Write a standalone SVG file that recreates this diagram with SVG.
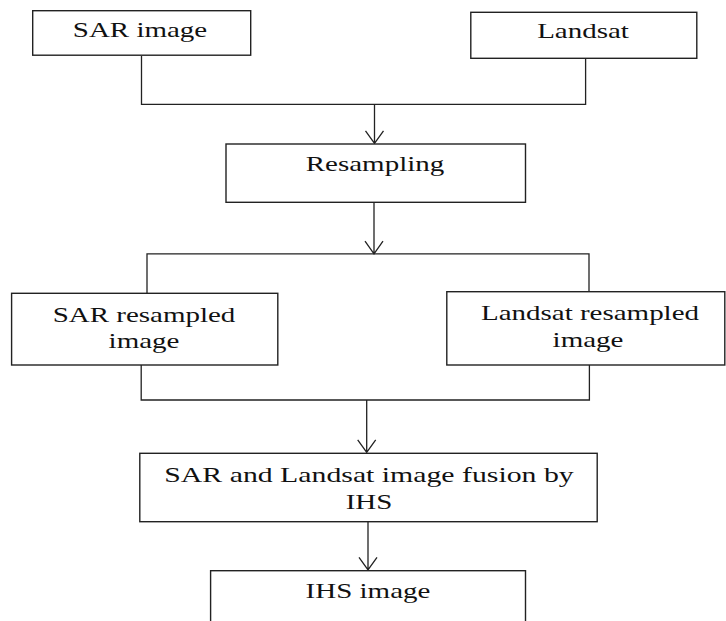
<svg xmlns="http://www.w3.org/2000/svg" width="726" height="621" viewBox="0 0 726 621">
<defs>
<style>
.box{fill:#fff;stroke:#222;stroke-width:1.4}
.ln{fill:none;stroke:#222;stroke-width:1.3}
.t{font-family:"Liberation Serif","Times New Roman",serif;font-size:20px;fill:#111;text-anchor:middle}
</style>
</defs>
<rect width="726" height="621" fill="#fff"/>
<g id="connectors">
<path class="ln" d="M141.5 56 V104.3 H585.6 V58.3"/>
<path class="ln" d="M374.5 104.3 V143.5 M365.5 130.8 L374.5 143.5 L383.5 130.8"/>
<path class="ln" d="M374 202.3 V253.8 M365 241.1 L374 253.8 L383 241.1"/>
<path class="ln" d="M147 293.3 V253.8 H589 V291.7"/>
<path class="ln" d="M141.2 365 V400 H589.4 V365"/>
<path class="ln" d="M366.7 400 V452.5 M357.7 439.8 L366.7 452.5 L375.7 439.8"/>
<path class="ln" d="M368 521.7 V570 M359 557.3 L368 570 L377 557.3"/>
</g>
<g id="sar-image">
<rect class="box" x="32.7" y="10.7" width="218" height="44.5"/>
<text class="t" transform="translate(140 37) scale(1.45 1)">SAR image</text>
</g>
<g id="landsat">
<rect class="box" x="470.8" y="12.3" width="226" height="46"/>
<text class="t" transform="translate(583 38) scale(1.45 1)">Landsat</text>
</g>
<g id="resampling">
<rect class="box" x="226" y="144" width="299.5" height="58.3"/>
<text class="t" transform="translate(375 171) scale(1.45 1)">Resampling</text>
</g>
<g id="sar-resampled">
<rect class="box" x="11.6" y="293.3" width="266.2" height="71.7"/>
<text class="t" transform="translate(144 321.7) scale(1.45 1)">SAR resampled</text>
<text class="t" transform="translate(144 348) scale(1.45 1)">image</text>
</g>
<g id="landsat-resampled">
<rect class="box" x="446.8" y="291.7" width="278" height="73.3"/>
<text class="t" transform="translate(590 320) scale(1.45 1)">Landsat resampled</text>
<text class="t" transform="translate(588 347) scale(1.45 1)">image</text>
</g>
<g id="fusion">
<rect class="box" x="139.8" y="453.3" width="457.4" height="68.4"/>
<text class="t" transform="translate(369 482) scale(1.49 1)">SAR and Landsat image fusion by</text>
<text class="t" transform="translate(369 509) scale(1.45 1)">IHS</text>
</g>
<g id="ihs-image">
<rect class="box" x="210.6" y="570.7" width="314.9" height="70"/>
<text class="t" transform="translate(368 598) scale(1.45 1)">IHS image</text>
</g>
</svg>
